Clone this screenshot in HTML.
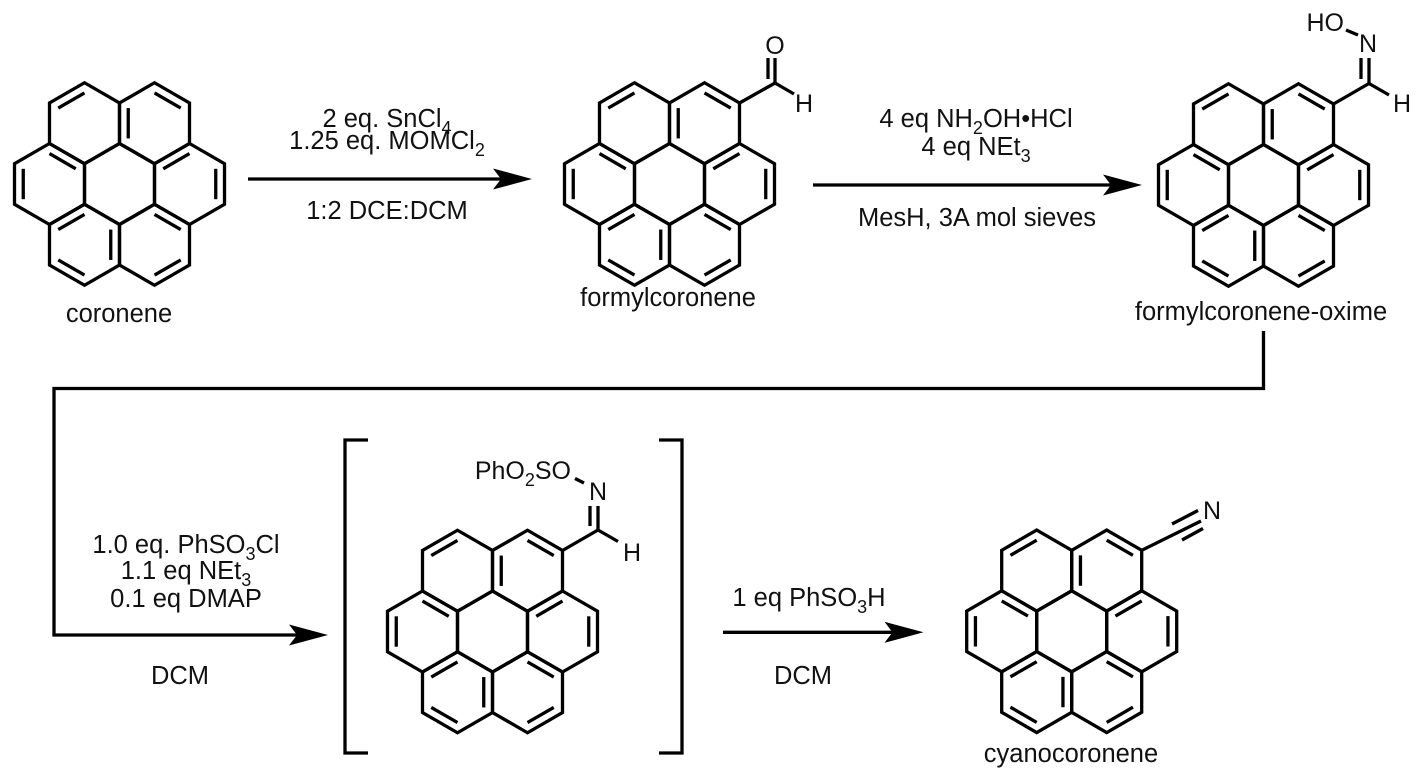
<!DOCTYPE html>
<html><head><meta charset="utf-8"><style>
html,body{margin:0;padding:0;background:#fff;}
svg{display:block;}
text{font-family:"Liberation Sans",Arial,sans-serif;fill:#111;}
</style></head><body>
<svg width="1425" height="780" viewBox="0 0 1425 780" xmlns="http://www.w3.org/2000/svg">
<defs>
<g id="cor" fill="none" stroke="#000" stroke-width="3.3" stroke-linejoin="miter">
<polygon points="-35,-101.25 0,-81 0,-40.5 -35,-20.25 -70,-40.5 -70,-81"/>
<polygon points="35,-101.25 70,-81 70,-40.5 35,-20.25 0,-40.5 0,-81"/>
<polygon points="-70,-40.5 -35,-20.25 -35,20.25 -70,40.5 -105,20.25 -105,-20.25"/>
<polygon points="0,-40.5 35,-20.25 35,20.25 0,40.5 -35,20.25 -35,-20.25"/>
<polygon points="70,-40.5 105,-20.25 105,20.25 70,40.5 35,20.25 35,-20.25"/>
<polygon points="-35,20.25 0,40.5 0,81 -35,101.25 -70,81 -70,40.5"/>
<polygon points="35,20.25 70,40.5 70,81 35,101.25 0,81 0,40.5"/>
<line x1="-35" y1="-91.1" x2="-61.25" y2="-75.94"/>
<line x1="8.75" y1="-75.94" x2="8.75" y2="-45.56"/>
<line x1="35" y1="-91.1" x2="61.25" y2="-75.94"/>
<line x1="43.75" y1="-15.19" x2="70" y2="-30.4"/>
<line x1="96.25" y1="-15.19" x2="96.25" y2="15.19"/>
<line x1="35" y1="30.4" x2="61.25" y2="45.56"/>
<line x1="-8.75" y1="45.56" x2="-8.75" y2="75.94"/>
<line x1="35" y1="91.1" x2="61.25" y2="75.94"/>
<line x1="-35" y1="91.1" x2="-61.25" y2="75.94"/>
<line x1="-35" y1="30.4" x2="-61.25" y2="45.56"/>
<line x1="-70" y1="-30.4" x2="-43.75" y2="-15.19"/>
<line x1="-96.25" y1="-15.19" x2="-96.25" y2="15.19"/>
</g>
</defs>

<use href="#cor" transform="translate(119.5,184)"/>
<use href="#cor" transform="translate(669.5,184)"/>
<use href="#cor" transform="translate(1263.5,185)"/>
<use href="#cor" transform="translate(492.5,631.5)"/>
<use href="#cor" transform="translate(1071.7,631.3)"/>

<g fill="none" stroke="#000" stroke-width="3.3">
<path d="M739.5,103 L775,83 L794,94"/>
<line x1="775" y1="83" x2="775" y2="58"/>
<line x1="768" y1="79" x2="768" y2="58"/>
<path d="M1333.5,104 L1369,83.5 L1389,95"/>
<line x1="1369" y1="83.5" x2="1369" y2="58"/>
<line x1="1361" y1="79" x2="1361" y2="58"/>
<line x1="1346" y1="30" x2="1358" y2="35"/>
<path d="M562.5,550.5 L598,530 L618,541.5"/>
<line x1="598" y1="530" x2="598" y2="506"/>
<line x1="590" y1="526" x2="590" y2="506"/>
<line x1="575" y1="478.5" x2="584" y2="483"/>
<line x1="1141.7" y1="550.3" x2="1201" y2="521"/>
<line x1="1172" y1="524" x2="1198" y2="510.5"/>
<line x1="1182" y1="540" x2="1203" y2="528.5"/>
<path d="M368,440 L345,440 L345,753 L368,753"/>
<path d="M659,440 L682,440 L682,753 L659,753"/>
<line x1="248" y1="179" x2="505" y2="179"/>
<line x1="813" y1="185" x2="1115" y2="185"/>
<path d="M1263.5,331 L1263.5,388.5 L54,388.5 L54,635 L300,635"/>
<line x1="723" y1="632.3" x2="896" y2="632.3"/>
</g>
<g fill="#000">
<polygon points="532,179 493,168.5 501,179 493,189.5"/>
<polygon points="1142,185 1103,174.5 1111,185 1103,195.5"/>
<polygon points="328,635 289,624.5 297,635 289,645.5"/>
<polygon points="923.5,632.3 884.5,621.8 892.5,632.3 884.5,642.8"/>
</g>

<g font-size="25">
<text x="775" y="54" text-anchor="middle">O</text>
<text x="804" y="112" text-anchor="middle">H</text>
<text x="1344" y="31" text-anchor="end">HO</text>
<text x="1368" y="52" text-anchor="middle">N</text>
<text x="1402" y="112" text-anchor="middle">H</text>
<text x="598" y="500" text-anchor="middle">N</text>
<text x="632" y="561" text-anchor="middle">H</text>
<text x="571" y="479" text-anchor="end">PhO<tspan font-size="18" dy="7">2</tspan><tspan dy="-7">SO</tspan></text>
<text x="1212" y="519" text-anchor="middle">N</text>
</g>

<g font-size="25.5" text-anchor="middle">
<text x="119" y="322">coronene</text>
<text x="668" y="306">formylcoronene</text>
<text x="1261" y="320">formylcoronene-oxime</text>
<text x="1071" y="762">cyanocoronene</text>

<text x="387" y="127">2 eq. SnCl<tspan font-size="18" dy="7">4</tspan></text>
<text x="387" y="149">1.25 eq. MOMCl<tspan font-size="18" dy="7">2</tspan></text>
<text x="387" y="219">1:2 DCE:DCM</text>

<text x="976" y="127">4 eq NH<tspan font-size="18" dy="7">2</tspan><tspan dy="-7">OH•HCl</tspan></text>
<text x="976" y="155">4 eq NEt<tspan font-size="18" dy="7">3</tspan></text>
<text x="977" y="226">MesH, 3A mol sieves</text>

<text x="186" y="553">1.0 eq. PhSO<tspan font-size="18" dy="7">3</tspan><tspan dy="-7">Cl</tspan></text>
<text x="186" y="579">1.1 eq NEt<tspan font-size="18" dy="7">3</tspan></text>
<text x="186" y="607">0.1 eq DMAP</text>
<text x="180" y="684">DCM</text>

<text x="809" y="606">1 eq PhSO<tspan font-size="18" dy="7">3</tspan><tspan dy="-7">H</tspan></text>
<text x="803" y="684">DCM</text>
</g>
</svg>
</body></html>
